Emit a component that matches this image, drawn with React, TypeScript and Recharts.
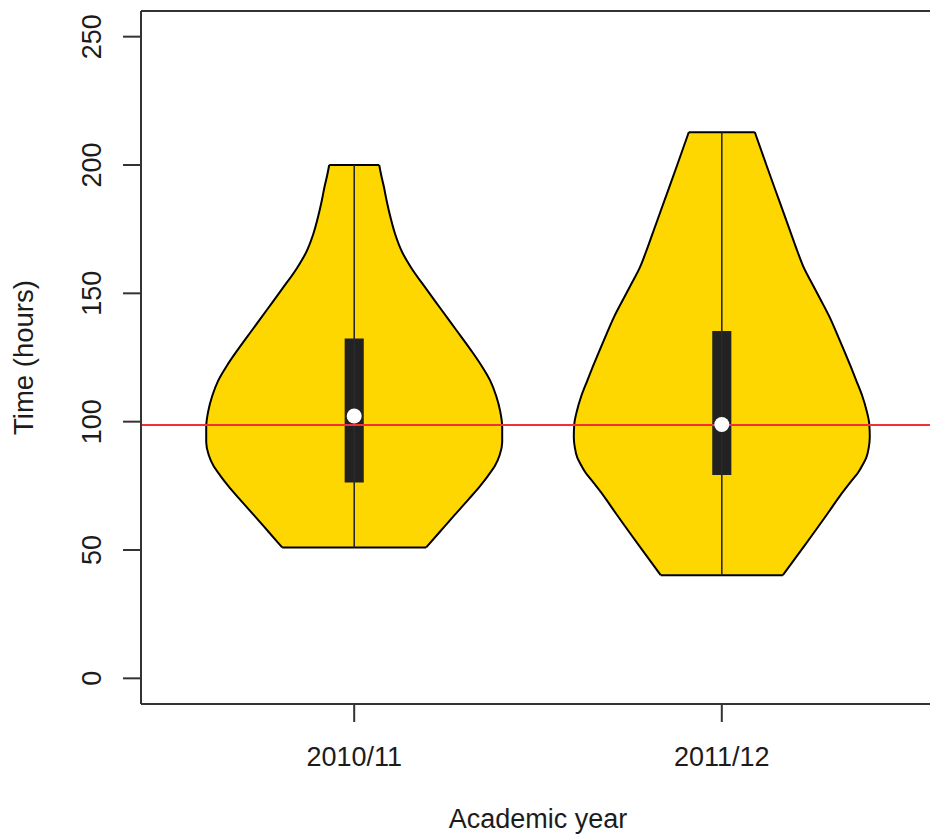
import React from 'react';
import {
  ComposedChart,
  Area,
  XAxis,
  YAxis,
  ReferenceLine,
  ReferenceArea,
  ReferenceDot,
  Label,
} from 'recharts';

// Academic years and their positions on the numeric x axis
const years = ['2010/11', '2011/12'];
const yearPos = [1, 2];

// Violin density profile for 2010/11: hours and half-width (x-axis units)
const hours2010 = [200, 196, 192, 186, 180, 173, 166, 160, 152, 144, 136, 128, 122, 116, 110, 104, 98, 92, 87, 83, 79, 75, 70, 63, 57, 51];
const width2010 = [0.068, 0.0735, 0.08, 0.0884, 0.098, 0.1115, 0.1306, 0.155, 0.1945, 0.2353, 0.2761, 0.3169, 0.3455, 0.37, 0.3863, 0.3972, 0.4026, 0.4026, 0.3958, 0.3836, 0.3645, 0.3428, 0.3128, 0.2693, 0.2326, 0.1959];

// Violin density profile for 2011/12
const hours2011 = [212.8, 200, 186, 173, 166, 160, 154, 147.4, 141, 134.4, 128, 121.4, 116, 110, 104, 99, 94, 90, 86, 83.8, 80, 77.3, 71, 64.3, 51.3, 40.2];
const width2011 = [0.0898, 0.1213, 0.1564, 0.1891, 0.2067, 0.2231, 0.2448, 0.2693, 0.2924, 0.3128, 0.3319, 0.3509, 0.3659, 0.3822, 0.3945, 0.4013, 0.4026, 0.3999, 0.3931, 0.3855, 0.37, 0.355, 0.321, 0.2884, 0.2231, 0.166];

// Box-plot summaries per year
const minHours = [51, 40.2];
const q1Hours = [76.3, 79.2];
const medianHours = [102.2, 98.9];
const q3Hours = [132.4, 135.3];
const maxHours = [200, 212.8];

// Horizontal reference level
const referenceHours = 98.7;

const yTicks = [0, 50, 100, 150, 200, 250];
const yDomain: [number, number] = [-10, 260];
const xDomain: [number, number] = [0.42, 2.58];

const FONT = '"Liberation Sans", Arial, Helvetica, sans-serif';
const TEXT = '#1c1c1c';
const FRAME = '#333333';
const FILL = '#FFD700';

const buildViolin = (hours: number[], widths: number[], pos: number) =>
  hours.map((v, i) => ({ v, band: [pos - widths[i], pos + widths[i]] }));

const violins = [
  { hours: hours2010, widths: width2010 },
  { hours: hours2011, widths: width2011 },
].map((d, i) => ({
  ...d,
  pos: yearPos[i],
  rows: buildViolin(d.hours, d.widths, yearPos[i]),
}));

const boxHalf = 0.026;

const YTick = (props: any) => {
  const { x, y, payload } = props;
  const bx = x - 22;
  return (
    <text
      x={bx}
      y={y}
      transform={`rotate(-90, ${bx}, ${y})`}
      textAnchor="middle"
      fontFamily={FONT}
      fontSize={27}
      fill={TEXT}
    >
      {payload.value}
    </text>
  );
};

const XTick = (props: any) => {
  const { x, y, payload } = props;
  const idx = yearPos.indexOf(payload.value);
  return (
    <text x={x} y={y + 44} textAnchor="middle" fontFamily={FONT} fontSize={27} fill={TEXT}>
      {idx >= 0 ? years[idx] : ''}
    </text>
  );
};

const XTitle = (props: any) => {
  const vb = props.viewBox;
  return (
    <text x={vb.x + vb.width / 2} y={vb.y + 124} textAnchor="middle" fontFamily={FONT} fontSize={27} fill={TEXT}>
      Academic year
    </text>
  );
};

const YTitle = (props: any) => {
  const vb = props.viewBox;
  const cx = 33;
  const cy = vb.y + vb.height / 2;
  return (
    <text
      x={cx}
      y={cy}
      transform={`rotate(-90, ${cx}, ${cy})`}
      textAnchor="middle"
      fontFamily={FONT}
      fontSize={27.5}
      fill={TEXT}
    >
      Time (hours)
    </text>
  );
};

export default function App() {
  return (
    <div
      style={{
        position: 'fixed',
        left: 0,
        top: 0,
        width: 930,
        height: 840,
        overflow: 'hidden',
        background: '#ffffff',
      }}
    >
      <ComposedChart
        layout="vertical"
        width={936}
        height={840}
        margin={{ top: 11, right: 1, bottom: 0, left: 0 }}
      >
        <XAxis
          type="number"
          domain={xDomain}
          allowDataOverflow
          ticks={yearPos}
          interval={0}
          height={136}
          tickSize={18}
          tickMargin={0}
          tick={<XTick />}
          axisLine={{ stroke: FRAME, strokeWidth: 2 }}
          tickLine={{ stroke: FRAME, strokeWidth: 2 }}
        >
          <Label content={<XTitle />} />
        </XAxis>
        <YAxis
          type="number"
          dataKey="v"
          domain={yDomain}
          allowDataOverflow
          reversed
          ticks={yTicks}
          interval={0}
          width={141}
          tickSize={18}
          tickMargin={0}
          tick={<YTick />}
          axisLine={{ stroke: FRAME, strokeWidth: 2 }}
          tickLine={{ stroke: FRAME, strokeWidth: 2 }}
        >
          <Label content={<YTitle />} />
        </YAxis>

        {/* top edge of the plot frame */}
        <ReferenceLine y={yDomain[1]} stroke={FRAME} strokeWidth={2} ifOverflow="visible" />

        {violins.map((vi, i) => (
          <Area
            key={`violin-${i}`}
            data={vi.rows}
            dataKey="band"
            type="monotone"
            fill={FILL}
            fillOpacity={1}
            stroke="#000000"
            strokeWidth={2}
            isAnimationActive={false}
            dot={false}
            activeDot={false}
          />
        ))}

        {violins.map((vi, i) => (
          <ReferenceLine
            key={`cap-top-${i}`}
            segment={[
              { x: vi.pos - vi.widths[0], y: vi.hours[0] },
              { x: vi.pos + vi.widths[0], y: vi.hours[0] },
            ]}
            stroke="#000000"
            strokeWidth={2}
          />
        ))}
        {violins.map((vi, i) => (
          <ReferenceLine
            key={`cap-bottom-${i}`}
            segment={[
              { x: vi.pos - vi.widths[vi.widths.length - 1], y: vi.hours[vi.hours.length - 1] },
              { x: vi.pos + vi.widths[vi.widths.length - 1], y: vi.hours[vi.hours.length - 1] },
            ]}
            stroke="#000000"
            strokeWidth={2}
          />
        ))}

        {yearPos.map((p, i) => (
          <ReferenceLine
            key={`whisker-${i}`}
            segment={[
              { x: p, y: minHours[i] },
              { x: p, y: maxHours[i] },
            ]}
            stroke="#2a2a2a"
            strokeWidth={1.6}
          />
        ))}

        {yearPos.map((p, i) => (
          <ReferenceArea
            key={`box-${i}`}
            x1={p - boxHalf}
            x2={p + boxHalf}
            y1={q1Hours[i]}
            y2={q3Hours[i]}
            fill="#222222"
            fillOpacity={1}
            stroke="none"
          />
        ))}

        {yearPos.map((p, i) => (
          <ReferenceDot
            key={`median-${i}`}
            x={p}
            y={medianHours[i]}
            r={7.5}
            fill="#ffffff"
            stroke="none"
          />
        ))}

        <ReferenceLine y={referenceHours} stroke="#f2303a" strokeWidth={2} />
      </ComposedChart>
    </div>
  );
}
